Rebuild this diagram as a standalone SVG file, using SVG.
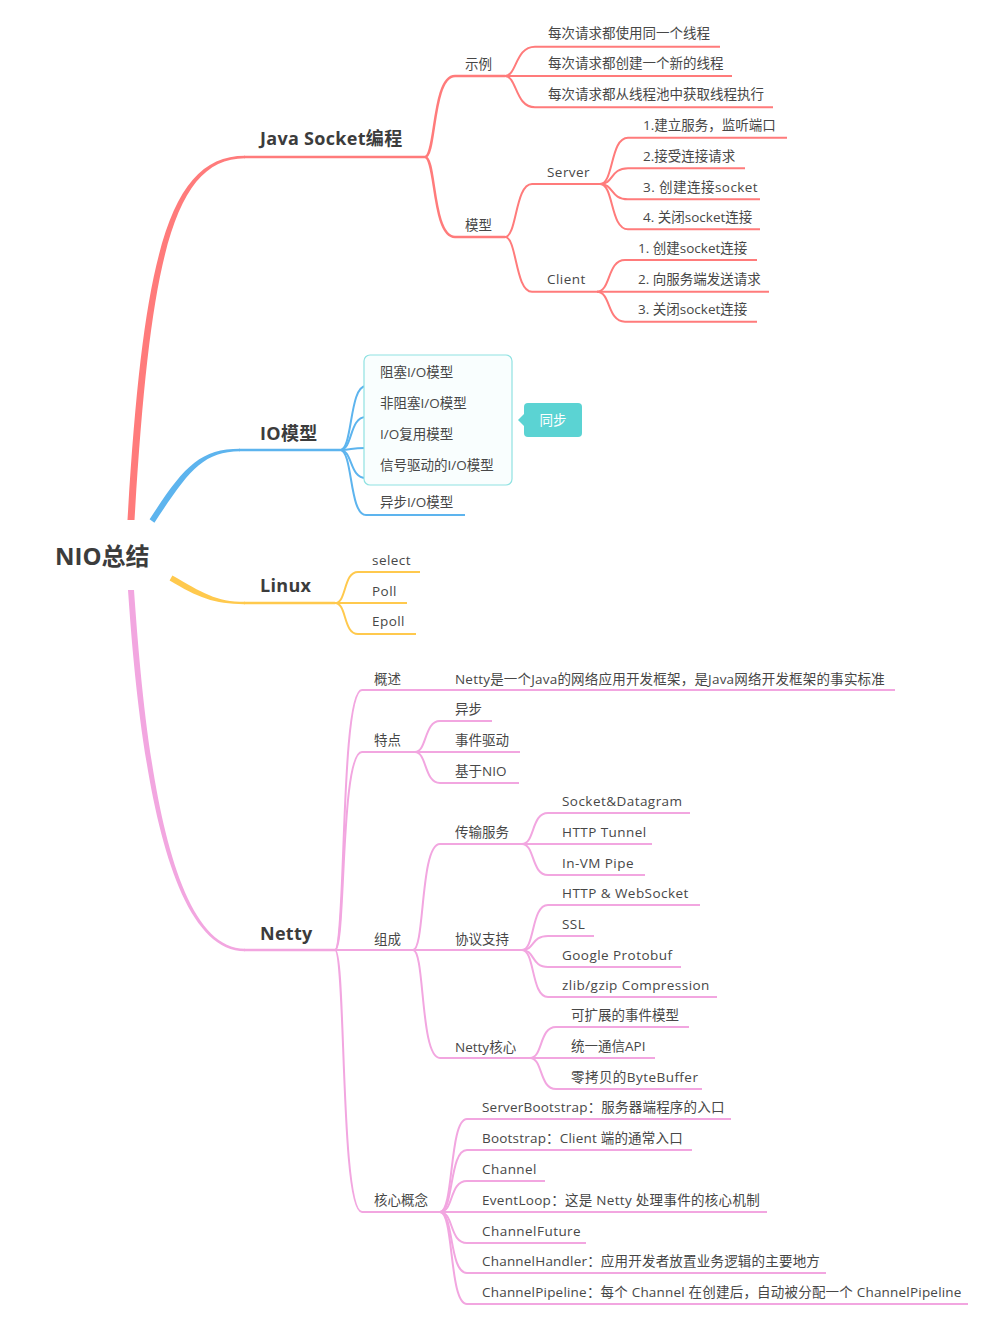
<svg xmlns="http://www.w3.org/2000/svg" width="990" height="1326" viewBox="0 0 990 1326">
<style>
text{font-family:"Open Sans","Noto Sans CJK SC",sans-serif;fill:#474747}
.root{font-size:24px;font-weight:bold;fill:#3c3c3c}
.m{font-size:18px;font-weight:bold;fill:#3c3c3c;letter-spacing:.3px}
.t{font-size:13.5px}
.l{letter-spacing:.45px}
.w{fill:#fff}
.r{stroke:#FF7B7B;fill:none;stroke-width:2}
.b{stroke:#5DB4EE;fill:none;stroke-width:2}
.y{stroke:#FFC94D;fill:none;stroke-width:2}
.p{stroke:#F2A6E0;fill:none;stroke-width:2}
.k{stroke-width:2.5}
</style>
<rect width="990" height="1326" fill="#fff"/>
<g id="connectors">
<path d="M127.5,520 C143,258 168,155.8 245,155.8 L245,158.2 C172,158.5 150,262 134.5,520 Z" fill="#FF7B7B"/>
<path class="r k" d="M244,157 L425,157"/>
<path class="r k" d="M425,157 C436,157 432,76 455,76 L505,76"/>
<path class="r k" d="M425,157 C436,157 432,237 455,237 L505,237"/>
<path class="r" d="M505,76 C517,76 515,46.7 535,46.7 L720,46.7"/>
<path class="r" d="M505,76 L732,76"/>
<path class="r" d="M505,76 C517,76 515,107.3 535,107.3 L773,107.3"/>
<path class="r" d="M505,237 C517,237 515,184 532,184 L600,184"/>
<path class="r" d="M505,237 C517,237 515,291.7 532,291.7 L597,291.7"/>
<path class="r" d="M600,184 C614,184 610,137.7 628,137.7 L787,137.7"/>
<path class="r" d="M600,184 C614,184 610,168.3 628,168.3 L745,168.3"/>
<path class="r" d="M600,184 C614,184 610,199.3 628,199.3 L760,199.3"/>
<path class="r" d="M600,184 C614,184 610,229.3 628,229.3 L760,229.3"/>
<path class="r" d="M597,291.7 C611,291.7 607,260 625,260 L757,260"/>
<path class="r" d="M597,291.7 L769,291.7"/>
<path class="r" d="M597,291.7 C611,291.7 607,321.7 625,321.7 L757,321.7"/>

<path d="M149.6,519.3 C183,468 199,448.8 240,448.8 L240,451.2 C202,451.5 188,472 154.4,522.7 Z" fill="#5DB4EE"/>
<path class="b k" d="M239,450 L340,450"/>
<path class="b" d="M340,450 C353,450 349,386 366,386 L465,386"/>
<path class="b" d="M340,450 C353,450 349,417 366,417 L480,417"/>
<path class="b" d="M340,450 C353,450 349,448 366,448 L465,448"/>
<path class="b" d="M340,450 C353,450 349,478 366,478 L508,478"/>
<path class="b" d="M340,450 C353,450 349,515 366,515 L465,515"/>

<path d="M172.4,575.4 C202,592.5 216,601.8 245,601.8 L245,604.2 C214,604.3 198,597.5 169.6,580.6 Z" fill="#FFC94D"/>
<path class="y k" d="M244,603 L335,603"/>
<path class="y" d="M335,603 C347,603 343,572 358,572 L420,572"/>
<path class="y" d="M335,603 L407,603"/>
<path class="y" d="M335,603 C347,603 343,634 358,634 L416,634"/>

<path d="M128,590 C137,722 160,951.2 245,951.2 L245,948.8 C163,948.8 143,718 134,590 Z" fill="#F2A6E0"/>
<path class="p k" d="M244,950 L335,950"/>
<path class="p" d="M335,950 C346,950 340,690 362,690 L895,690"/>
<path class="p" d="M335,950 C346,950 340,752 362,752 L415,752"/>
<path class="p" d="M335,950 L413,950"/>
<path class="p" d="M335,950 C346,950 340,1212 362,1212 L440,1212"/>
<path class="p" d="M415,752 C427,752 424,721 440,721 L492,721"/>
<path class="p" d="M415,752 L520,752"/>
<path class="p" d="M415,752 C427,752 424,783 440,783 L519,783"/>
<path class="p" d="M413,950 C425,950 420,844 440,844 L522,844"/>
<path class="p" d="M413,950 L522,950"/>
<path class="p" d="M413,950 C425,950 420,1058 440,1058 L530,1058"/>
<path class="p" d="M522,844 C535,844 531,813 548,813 L690,813"/>
<path class="p" d="M522,844 L652,844"/>
<path class="p" d="M522,844 C535,844 531,875 548,875 L645,875"/>
<path class="p" d="M522,950 C535,950 531,905 548,905 L700,905"/>
<path class="p" d="M522,950 C535,950 531,936 548,936 L594,936"/>
<path class="p" d="M522,950 C535,950 531,967 548,967 L681,967"/>
<path class="p" d="M522,950 C535,950 531,997 548,997 L717,997"/>
<path class="p" d="M530,1058 C543,1058 539,1027 556,1027 L689,1027"/>
<path class="p" d="M530,1058 L655,1058"/>
<path class="p" d="M530,1058 C543,1058 539,1089 556,1089 L702,1089"/>
<path class="p" d="M440,1212 C454,1212 449,1119 467,1119 L731,1119"/>
<path class="p" d="M440,1212 C454,1212 449,1150 467,1150 L692,1150"/>
<path class="p" d="M440,1212 C454,1212 449,1181 467,1181 L545,1181"/>
<path class="p" d="M440,1212 L767,1212"/>
<path class="p" d="M440,1212 C454,1212 449,1243 467,1243 L586,1243"/>
<path class="p" d="M440,1212 C454,1212 449,1273 467,1273 L826,1273"/>
<path class="p" d="M440,1212 C454,1212 449,1304 467,1304 L968,1304"/>
</g>

<g id="root"><text class="root" x="55" y="565">NIO总结</text></g>

<g id="java-socket"><text class="m" x="260" y="145">Java Socket编程</text></g>
<g id="shili"><text class="t" x="465" y="69">示例</text></g>
<g id="shili-1"><text class="t" x="548" y="38">每次请求都使用同一个线程</text></g>
<g id="shili-2"><text class="t" x="548" y="68">每次请求都创建一个新的线程</text></g>
<g id="shili-3"><text class="t" x="548" y="99">每次请求都从线程池中获取线程执行</text></g>
<g id="moxing"><text class="t" x="465" y="230">模型</text></g>
<g id="server"><text class="t l" x="547" y="177">Server</text></g>
<g id="server-1"><text class="t" x="643" y="130">1.建立服务，监听端口</text></g>
<g id="server-2"><text class="t" x="643" y="161">2.接受连接请求</text></g>
<g id="server-3"><text class="t l" x="643" y="192">3. 创建连接socket</text></g>
<g id="server-4"><text class="t" x="643" y="222">4. 关闭socket连接</text></g>
<g id="client"><text class="t l" x="547" y="284">Client</text></g>
<g id="client-1"><text class="t" x="638" y="253">1. 创建socket连接</text></g>
<g id="client-2"><text class="t" x="638" y="284">2. 向服务端发送请求</text></g>
<g id="client-3"><text class="t" x="638" y="314">3. 关闭socket连接</text></g>

<g id="io"><text class="m" x="260" y="440">IO模型</text></g>
<g id="sync-box"><rect x="364" y="355" width="148" height="130" rx="6" fill="#F9FEFE" stroke="#8FE2E2" stroke-width="1.2"/></g>
<g id="io-1"><text class="t" x="380" y="377">阻塞I/O模型</text></g>
<g id="io-2"><text class="t" x="380" y="408">非阻塞I/O模型</text></g>
<g id="io-3"><text class="t" x="380" y="439">I/O复用模型</text></g>
<g id="io-4"><text class="t" x="380" y="470">信号驱动的I/O模型</text></g>
<g id="io-5"><text class="t" x="380" y="507">异步I/O模型</text></g>
<g id="sync-label"><path d="M525,413 L518,420 L525,427 Z" fill="#5BD3D3"/><rect x="524" y="403" width="58" height="34" rx="4" fill="#5BD3D3"/><text class="t w" x="553" y="425" text-anchor="middle">同步</text></g>

<g id="linux"><text class="m" x="260" y="592">Linux</text></g>
<g id="linux-1"><text class="t l" x="372" y="565">select</text></g>
<g id="linux-2"><text class="t l" x="372" y="596">Poll</text></g>
<g id="linux-3"><text class="t l" x="372" y="626">Epoll</text></g>

<g id="netty"><text class="m" x="260" y="940">Netty</text></g>
<g id="gaishu"><text class="t" x="374" y="684">概述</text></g>
<g id="gaishu-1"><text class="t" x="455" y="684" letter-spacing=".2">Netty是一个Java的网络应用开发框架，是Java网络开发框架的事实标准</text></g>
<g id="tedian"><text class="t" x="374" y="745">特点</text></g>
<g id="tedian-1"><text class="t" x="455" y="714">异步</text></g>
<g id="tedian-2"><text class="t" x="455" y="745">事件驱动</text></g>
<g id="tedian-3"><text class="t" x="455" y="776">基于NIO</text></g>
<g id="zucheng"><text class="t" x="374" y="944">组成</text></g>
<g id="chuanshu"><text class="t" x="455" y="837">传输服务</text></g>
<g id="cs-1"><text class="t l" x="562" y="806">Socket&amp;Datagram</text></g>
<g id="cs-2"><text class="t l" x="562" y="837">HTTP Tunnel</text></g>
<g id="cs-3"><text class="t l" x="562" y="868">In-VM Pipe</text></g>
<g id="xieyi"><text class="t" x="455" y="944">协议支持</text></g>
<g id="xy-1"><text class="t l" x="562" y="898">HTTP &amp; WebSocket</text></g>
<g id="xy-2"><text class="t l" x="562" y="929">SSL</text></g>
<g id="xy-3"><text class="t l" x="562" y="960">Google Protobuf</text></g>
<g id="xy-4"><text class="t l" x="562" y="990">zlib/gzip Compression</text></g>
<g id="netty-core"><text class="t" x="455" y="1052">Netty核心</text></g>
<g id="nc-1"><text class="t" x="571" y="1020">可扩展的事件模型</text></g>
<g id="nc-2"><text class="t" x="571" y="1051">统一通信API</text></g>
<g id="nc-3"><text class="t l" x="571" y="1082">零拷贝的ByteBuffer</text></g>
<g id="hexin"><text class="t" x="374" y="1205">核心概念</text></g>
<g id="hx-1"><text class="t" x="482" y="1112" letter-spacing=".2">ServerBootstrap：服务器端程序的入口</text></g>
<g id="hx-2"><text class="t" x="482" y="1143" letter-spacing=".2">Bootstrap：Client 端的通常入口</text></g>
<g id="hx-3"><text class="t l" x="482" y="1174">Channel</text></g>
<g id="hx-4"><text class="t" x="482" y="1205" letter-spacing=".3">EventLoop：这是 Netty 处理事件的核心机制</text></g>
<g id="hx-5"><text class="t l" x="482" y="1236">ChannelFuture</text></g>
<g id="hx-6"><text class="t" x="482" y="1266" letter-spacing=".2">ChannelHandler：应用开发者放置业务逻辑的主要地方</text></g>
<g id="hx-7"><text class="t" x="482" y="1297" letter-spacing=".2">ChannelPipeline：每个 Channel 在创建后，自动被分配一个 ChannelPipeline</text></g>
</svg>
